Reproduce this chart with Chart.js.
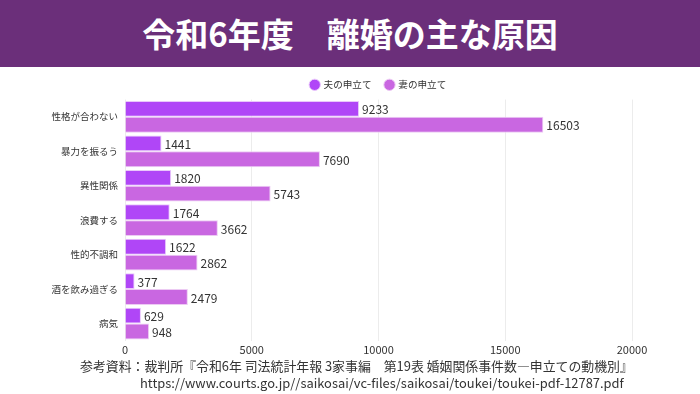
<!DOCTYPE html>
<html><head><meta charset="utf-8">
<script src="https://cdn.jsdelivr.net/npm/chart.js@4"></script>
<style>
html,body{margin:0;padding:0;background:#fff;width:700px;height:394px;overflow:hidden;font-family:"Noto Sans CJK JP","Noto Sans",sans-serif;}
#hdr{position:absolute;left:0;top:0;width:700px;height:67px;background:#6b2f7a;color:#fff;font-weight:bold;font-size:33px;text-align:center;line-height:67px;letter-spacing:0px;}
#wrap{position:absolute;left:0;top:66px;width:700px;height:292px;}
#src{position:absolute;left:80px;top:357px;font-size:12.9px;color:#333;line-height:17px;white-space:nowrap;}
</style></head><body>
<div id="hdr">令和6年度　離婚の主な原因</div>
<div id="wrap"><canvas id="c" width="700" height="292"></canvas></div>
<div id="src">参考資料：裁判所『令和6年 司法統計年報 3家事編　第19表 婚姻関係事件数―申立ての動機別』<br><span style="padding-left:60px">https://www.courts.go.jp//saikosai/vc-files/saikosai/toukei/toukei-pdf-12787.pdf</span></div>
<script>
const categories = ["性格が合わない","暴力を振るう","異性関係","浪費する","性的不調和","酒を飲み過ぎる","病気"];
const seriesNames = ["夫の申立て","妻の申立て"];
const husband = [9233,1441,1820,1764,1622,377,629];
const wife = [16503,7690,5743,3662,2862,2479,948];
const xTicks = [0,5000,10000,15000,20000];

const labelPlugin = {
  id:'vals',
  afterDatasetsDraw(chart){
    const ctx = chart.ctx;
    ctx.save();
    ctx.font = '12px "Noto Sans CJK JP", sans-serif';
    ctx.fillStyle = '#333';
    ctx.textBaseline = 'middle';
    ctx.textAlign = 'left';
    chart.data.datasets.forEach((ds,i)=>{
      chart.getDatasetMeta(i).data.forEach((el,j)=>{
        ctx.fillText(String(ds.data[j]), el.x+3, el.y+1);
      });
    });
    ctx.restore();
  }
};

new Chart(document.getElementById('c'),{
  type:'bar',
  data:{
    labels:categories,
    datasets:[
      {label:seriesNames[0],data:husband,backgroundColor:'#b046f7',borderColor:'#e9c8fb',borderWidth:1,categoryPercentage:0.92,barPercentage:1.0},
      {label:seriesNames[1],data:wife,backgroundColor:'#c967e1',borderColor:'#eccaf3',borderWidth:1,categoryPercentage:0.92,barPercentage:1.0}
    ]
  },
  options:{
    indexAxis:'y',
    responsive:false,
    animation:false,
    layout:{padding:{left:0,right:68,top:0,bottom:0}},
    plugins:{
      legend:{position:'top',fullSize:false,labels:{usePointStyle:true,pointStyle:'circle',boxWidth:8,boxHeight:8,padding:14,color:'#333',font:{size:9.6,family:'"Noto Sans CJK JP"'}}},
      tooltip:{enabled:false}
    },
    scales:{
      x:{min:0,max:20000,afterBuildTicks(s){s.ticks=xTicks.map(v=>({value:v}));},
         grid:{color:'#ececec',drawTicks:false},border:{display:false},
         ticks:{color:'#333',padding:2,callback:(v)=>String(v),font:{size:11,family:'"Noto Sans CJK JP"'}}},
      y:{grid:{display:false,drawTicks:false},border:{display:false},
         afterFit(s){s.width=125;},
         ticks:{color:'#333',padding:7,font:{size:9.5,family:'"Noto Sans CJK JP"'}}}
    }
  },
  plugins:[labelPlugin]
});
</script>
</body></html>
